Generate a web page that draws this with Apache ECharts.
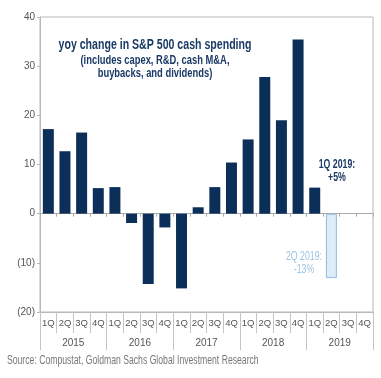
<!DOCTYPE html>
<html><head><meta charset="utf-8">
<script src="https://cdn.jsdelivr.net/npm/echarts@6/dist/echarts.min.js"></script>
<style>html,body{margin:0;padding:0;background:#fff}#c{width:381px;height:378px}</style>
</head><body><div id="c"></div>
<script>
const quarters = ['1Q','2Q','3Q','4Q','1Q','2Q','3Q','4Q','1Q','2Q','3Q','4Q','1Q','2Q','3Q','4Q','1Q','2Q','3Q','4Q'];
const years = ['2015','2016','2017','2018','2019'];
const actual = [17.2,12.7,16.5,5.2,5.4,-1.9,-14.3,-2.8,-15.2,1.3,5.4,10.4,15.1,27.8,19.0,35.4,5.3,null,null,null];
const estimate = [null,null,null,null,null,null,null,null,null,null,null,null,null,null,null,null,null,-13.1,null,null];
const yTicks = {min:-20,max:40,interval:10};

const F = '"Liberation Sans",Arial,sans-serif';
const navy = '#0c2f5a';
const chart = echarts.init(document.getElementById('c'));
const idx = quarters.map((q,i)=>i);
function txt(t,x,y,font,fill,align,sx){
  return {type:'text',x:x,y:y,scaleX:sx,style:{text:t,x:0,y:0,align:align,verticalAlign:'middle',lineHeight:13,font:font,fill:fill}};
}
chart.setOption({
  animation:false,
  grid:{left:40,top:17,right:8,bottom:66,show:true,borderColor:'#b8b8b8',borderWidth:1},
  xAxis:[
    {type:'category',data:idx,position:'bottom',axisLine:{onZero:false,lineStyle:{color:'#b8b8b8'}},
     axisTick:{show:true,interval:0,length:21,lineStyle:{color:'#c4c4c4'}},
     axisLabel:{interval:0,formatter:(v)=>quarters[v],color:'#555',fontFamily:F,fontSize:9.5,margin:6}},
    {type:'category',data:years,position:'bottom',axisLine:{show:false,onZero:false},
     axisTick:{show:true,interval:0,length:38,lineStyle:{color:'#c4c4c4'}},
     axisLabel:{color:'#555',fontFamily:F,fontSize:10,margin:26}},
    {type:'category',data:idx,position:'bottom',axisLine:{onZero:true,lineStyle:{color:'#aaa'}},
     axisTick:{show:true,interval:0,length:3,lineStyle:{color:'#aaa'}},axisLabel:{show:false}}
  ],
  yAxis:{type:'value',min:yTicks.min,max:yTicks.max,interval:yTicks.interval,
    axisLine:{show:true,lineStyle:{color:'#b8b8b8'}},axisTick:{show:true,length:3,lineStyle:{color:'#b8b8b8'}},
    splitLine:{show:false},
    axisLabel:{color:'#555',fontFamily:F,fontSize:10,margin:5,formatter:(v)=>v<0?'('+(-v)+')':String(v)}},
  series:[
    {type:'bar',xAxisIndex:0,data:actual,barWidth:'66%',barGap:'-100%',itemStyle:{color:navy}},
    {type:'bar',xAxisIndex:0,data:estimate,barWidth:'66%',itemStyle:{color:'#deecf8',borderColor:'#8fb9dd',borderWidth:1}}
  ],
  graphic:[
    txt('yoy change in S&P 500 cash spending',155,45,'bold 14.5px '+F,'#1b3a66','center',0.73),
    txt('(includes capex, R&D, cash M&A,',155,60.5,'bold 12.5px '+F,'#1b3a66','center',0.75),
    txt('buybacks, and dividends)',155,73.5,'bold 12.5px '+F,'#1b3a66','center',0.75),
    txt('1Q 2019:\n+5%',337,171.5,'bold 12px '+F,'#1b3a66','center',0.73),
    txt('2Q 2019:\n-13%',304,263.5,'12px '+F,'#9cc3e4','center',0.73),
    txt('Source: Compustat, Goldman Sachs Global Investment Research',7,361,'12px '+F,'#777','left',0.72)
  ]
});
</script></body></html>
